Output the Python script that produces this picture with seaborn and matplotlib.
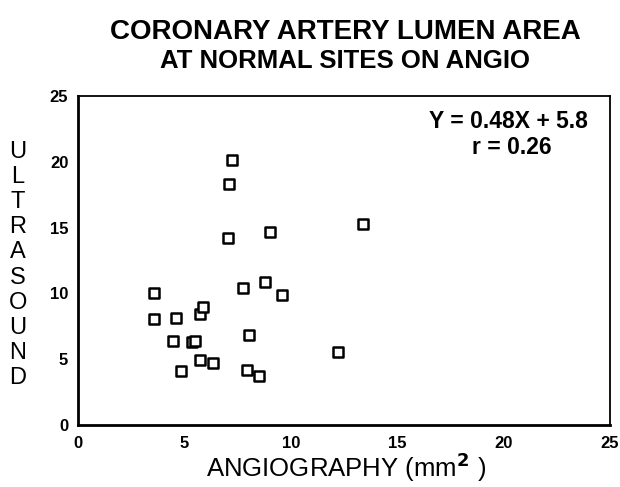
import matplotlib
matplotlib.use("Agg")
import matplotlib.pyplot as plt
import seaborn as sns
import pandas as pd

angiography = [7.23, 7.09, 7.03, 9.01, 13.4, 3.58, 3.58, 4.61, 4.48, 5.35, 5.50,
               5.71, 5.87, 5.72, 6.34, 4.83, 7.75, 8.80, 9.59, 8.02, 7.94, 8.52, 12.23]
ultrasound = [20.1, 18.3, 14.2, 14.7, 15.3, 10.05, 8.07, 8.14, 6.36, 6.30, 6.35,
              8.4, 8.98, 4.91, 4.71, 4.1, 10.38, 10.87, 9.87, 6.87, 4.15, 3.74, 5.55]
x_ticks = [0, 5, 10, 15, 20, 25]
y_ticks = [0, 5, 10, 15, 20, 25]

df = pd.DataFrame({"angio": angiography, "us": ultrasound})

sns.set_style("white")
plt.rcParams['font.family'] = ['Liberation Sans', 'DejaVu Sans']
plt.rcParams['text.color'] = 'black'
plt.rcParams['axes.labelcolor'] = 'black'

fig = plt.figure(figsize=(6.2, 4.87), dpi=100)
ax = fig.add_axes([78/620, 1-425/487, (610-78)/620, (425-96)/487])

sns.scatterplot(data=df, x="angio", y="us", ax=ax, marker="s", s=46,
                facecolor="white", edgecolor="black", linewidth=1.8, legend=False)

ax.set_xlim(0, 25)
ax.set_ylim(0, 25)
ax.set_xticks(x_ticks)
ax.set_yticks(y_ticks)
ax.set_xticklabels([str(t) for t in x_ticks], fontsize=12, fontweight="bold")
ax.set_yticklabels([str(t) for t in y_ticks], fontsize=12, fontweight="bold")
ax.tick_params(axis="x", direction="in", length=6, width=1.5, pad=8, colors="black")
ax.tick_params(axis="y", direction="out", length=5, width=1.5, pad=2, colors="black")
for side in ["left", "bottom"]:
    ax.spines[side].set_linewidth(2.0)
    ax.spines[side].set_color("black")
for side in ["top", "right"]:
    ax.spines[side].set_linewidth(1.3)
    ax.spines[side].set_color("black")

ax.set_xlabel("")
ax.set_ylabel("")
fig.text(346/620, 1-467/487, r"ANGIOGRAPHY (mm$^{\mathbf{2}}$ )", fontsize=18.5,
         ha="center", va="center", family=['Liberation Sans Narrow', 'Liberation Sans', 'DejaVu Sans'])
fig.text(18/620, 1-265/487, "\n".join("ULTRASOUND"), fontsize=17, ha="center",
         va="center", linespacing=1.18,
         family=['Liberation Sans Narrow', 'Liberation Sans', 'DejaVu Sans'])

ax.text((508-78)/532, (425-122)/329, "Y = 0.48X + 5.8", transform=ax.transAxes, ha="center",
        va="center", fontsize=16.5, fontweight="bold")
ax.text((512-78)/532, (425-148)/329, "r = 0.26", transform=ax.transAxes, ha="center",
        va="center", fontsize=16.5, fontweight="bold")

fig.text(345/620, 1-32/487, "CORONARY ARTERY LUMEN AREA", fontsize=20,
         fontweight="heavy", ha="center", va="center")
fig.text(345/620, 1-61/487, "AT NORMAL SITES ON ANGIO", fontsize=18.5,
         fontweight="heavy", ha="center", va="center")

fig.savefig("out.png", dpi=100)
